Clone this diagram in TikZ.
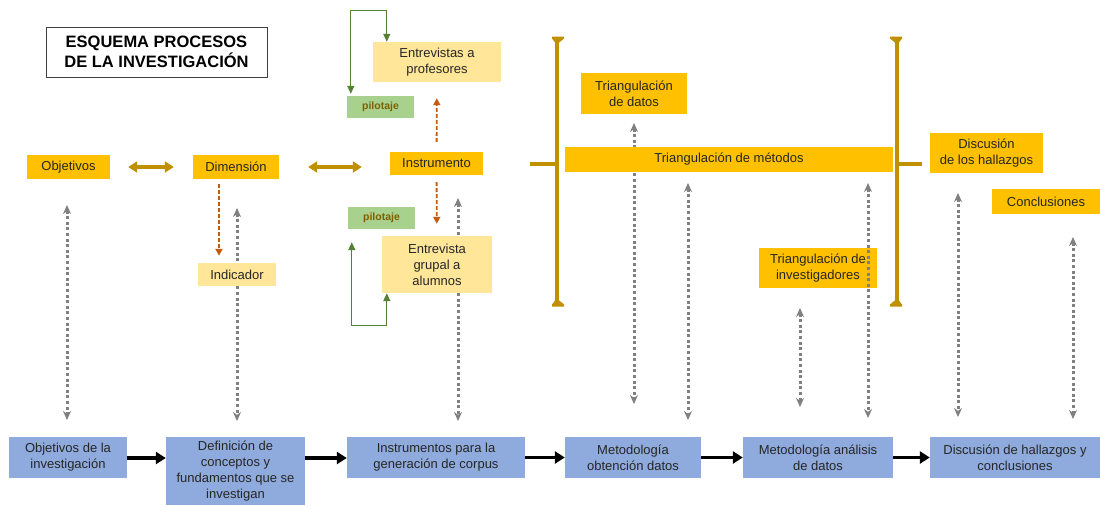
\documentclass[tikz,border=0pt]{standalone}
\usepackage{fontspec}
\setmainfont{Liberation Sans}
\usetikzlibrary{arrows.meta}
\definecolor{oro}{RGB}{255,192,0}
\definecolor{oroclaro}{RGB}{255,230,153}
\definecolor{oroscuro}{RGB}{191,144,0}
\definecolor{verde}{RGB}{169,209,142}
\definecolor{verdeosc}{RGB}{84,130,53}
\definecolor{azul}{RGB}{143,170,220}
\definecolor{naranja}{RGB}{197,90,17}
\definecolor{textopil}{RGB}{127,96,0}

\begin{document}
\begin{tikzpicture}[x=1pt, y=-1pt,
		every node/.style={font=\fontsize{13}{16}\selectfont, align=center, inner sep=2pt, text=black!85},
		caja/.style={fill=oro},
		cajaclara/.style={fill=oroclaro},
		pilot/.style={fill=verde, minimum width=67pt, minimum height=22pt, text=textopil, font=\bfseries\fontsize{10.5}{12}\selectfont},
		proceso/.style={fill=azul, minimum height=41pt},
		gris/.style={draw=black!50, line width=3pt, dash pattern=on 3pt off 2.6pt, {Stealth[length=9pt,width=8pt]}-{Stealth[length=9pt,width=8pt]}},
		oroflecha/.style={draw=oroscuro, line width=3.5pt, {Triangle[length=9pt,width=11pt]}-{Triangle[length=9pt,width=11pt]}},
		negra/.style={draw=black, line width=3.5pt, -{Triangle[length=10pt,width=12pt]}},
		naranjadash/.style={draw=naranja, line width=1.8pt, dash pattern=on 4pt off 2pt, -{Triangle[length=7pt,width=7pt]}},
		verdeflecha/.style={draw=verdeosc, line width=1.3pt, {Triangle[length=8pt,width=7pt]}-{Triangle[length=8pt,width=7pt]}},
		llave/.style={draw=oroscuro, line width=3.2pt}]
		
		\useasboundingbox (0,0) rectangle (1100,506);
		
		% Titel
		\node[draw=black!75, line width=1pt, minimum width=221pt, minimum height=50pt, text=black, font=\bfseries\fontsize{16.5}{20}\selectfont] (titulo) at (156.5,52) {ESQUEMA PROCESOS\\DE LA INVESTIGACIÓN};
		
		% liegt unter der grauen Linie
		\node[caja, minimum width=118pt, minimum height=40pt] (tinvest) at (818,268) {Triangulación de\\investigadores};
		
		% --- graue Pfeile (oben frei, unten frei) ---
		\coordinate (g1t) at (67,205);   \coordinate (g1b) at (67,420);
		\coordinate (g2t) at (237,208);  \coordinate (g2b) at (237,421);
		\coordinate (g3t) at (458,198);  \coordinate (g3b) at (458,421);
		\coordinate (g4t) at (634,123);  \coordinate (g4b) at (634,404);
		\coordinate (g5t) at (688,183);  \coordinate (g5b) at (688,420);
		\coordinate (g6t) at (800,308);  \coordinate (g6b) at (800,407);
		\coordinate (g7t) at (868,183);  \coordinate (g7b) at (868,418);
		\coordinate (g8t) at (958,193);  \coordinate (g8b) at (958,417);
		\coordinate (g9t) at (1073,237); \coordinate (g9b) at (1073,419);
		\draw[gris] (g1t) -- (g1b);
		\draw[gris] (g2t) -- (g2b);
		\draw[gris] (g3t) -- (g3b);
		\draw[gris] (g4t) -- (g4b);
		\draw[gris] (g5t) -- (g5b);
		\draw[gris] (g6t) -- (g6b);
		\draw[gris] (g7t) -- (g7b);
		\draw[gris] (g8t) -- (g8b);
		\draw[gris] (g9t) -- (g9b);
		
		% --- Reihe oben: Objetivos, Dimensión, Instrumento ---
		\node[caja, minimum width=83pt, minimum height=24pt] (obj) at (68.5,167) {Objetivos};
		\node[caja, minimum width=86pt, minimum height=24pt] (dim) at (236,167) {Dimensión};
		\node[caja, minimum width=93pt, minimum height=23pt] (instr) at (436.5,163.5) {Instrumento};
		\node[cajaclara, minimum width=78pt, minimum height=23pt] (indic) at (237,274.5) {Indicador};
		
		\node[cajaclara, minimum width=128pt, minimum height=40pt] (entprof) at (437,62) {Entrevistas a\\profesores};
		\node[cajaclara, minimum width=110pt, minimum height=57pt] (entalum) at (437,264.5) {Entrevista\\grupal a\\alumnos};
		\node[pilot] (pilot1) at (380.5,107) {pilotaje};
		\node[pilot] (pilot2) at (381.5,218) {pilotaje};
		
		% --- Triangulación ---
		\node[caja, minimum width=106pt, minimum height=41pt] (tdatos) at (634,93.5) {Triangulación\\de datos};
		\node[caja, minimum width=328pt, minimum height=25pt] (tmetodos) at (729,159.5) {Triangulación de métodos};
		
		\node[caja, minimum width=113pt, minimum height=40pt] (discus) at (986.5,153) {Discusión\\de los hallazgos};
		\node[caja, minimum width=108pt, minimum height=25pt] (concl) at (1046,201.5) {Conclusiones};
		
		% --- Prozesskette unten ---
		\node[proceso, minimum width=118pt] (b1) at (68,457.5) {Objetivos de la\\investigación};
		\node[proceso, minimum width=139pt, minimum height=68pt] (b2) at (235.5,471) {Definición de\\conceptos y\\fundamentos que se\\investigan};
		\node[proceso, minimum width=178pt] (b3) at (436,457.5) {Instrumentos para la\\generación de corpus};
		\node[proceso, minimum width=136pt] (b4) at (633,457.5) {Metodología\\obtención datos};
		\node[proceso, minimum width=150pt] (b5) at (818,457.5) {Metodología análisis\\de datos};
		\node[proceso, minimum width=170pt] (b6) at (1015,457.5) {Discusión de hallazgos y\\conclusiones};
		
		\draw[negra] (b1.east |- 0,458) -- (b2.west |- 0,458);
		\draw[negra] (b2.east |- 0,458) -- (b3.west |- 0,458);
		\draw[negra] (b3) -- (b4);
		\draw[negra] (b4) -- (b5);
		\draw[negra] (b5) -- (b6);
		
		% Verbindungen oben
		\draw[oroflecha, shorten <=18pt, shorten >=19pt] (obj) -- (dim);
		\draw[oroflecha, shorten <=29pt, shorten >=28pt] (dim) -- (instr.west |- dim);
		\draw[naranjadash, shorten <=10pt, shorten >=16pt] (instr) -- (entprof);
		\draw[naranjadash, shorten <=7pt, shorten >=12pt] (instr) -- (entalum);
		\draw[naranjadash, shorten <=5pt, shorten >=7pt] ([xshift=-17pt]dim.south) -- ([xshift=-18pt]indic.north);
		
		% pilotaje Schleifen
		\draw[verdeflecha, shorten <=2pt] ([xshift=4pt]pilot1.north west) -- ++(0,-85) -| ([xshift=14pt]entprof.north west);
		\draw[verdeflecha, shorten <=13pt] ([xshift=4pt]pilot2.south west) -- ++(0,96) -| ([xshift=5pt]entalum.south west);
		
		% Klammern
		\draw[llave] (557,40) -- (557,303);
		\draw[llave] (557,164) -- (530,164);
		\fill[oroscuro] (552,36.5) -- (564,36.5) -- (564,38.5) -- (558.6,43) -- (555.4,43) -- (552,38.5) -- cycle;
		\fill[oroscuro] (552,306.5) -- (564,306.5) -- (564,304.5) -- (558.6,300) -- (555.4,300) -- (552,304.5) -- cycle;
		\draw[llave] (897,40) -- (897,303);
		\draw[llave] (897,164) -- (922,164);
		\fill[oroscuro] (890,36.5) -- (902,36.5) -- (902,38.5) -- (898.6,43) -- (895.4,43) -- (890,38.5) -- cycle;
		\fill[oroscuro] (890,306.5) -- (902,306.5) -- (902,304.5) -- (898.6,300) -- (895.4,300) -- (890,304.5) -- cycle;
		
	\end{tikzpicture}
\end{document}
